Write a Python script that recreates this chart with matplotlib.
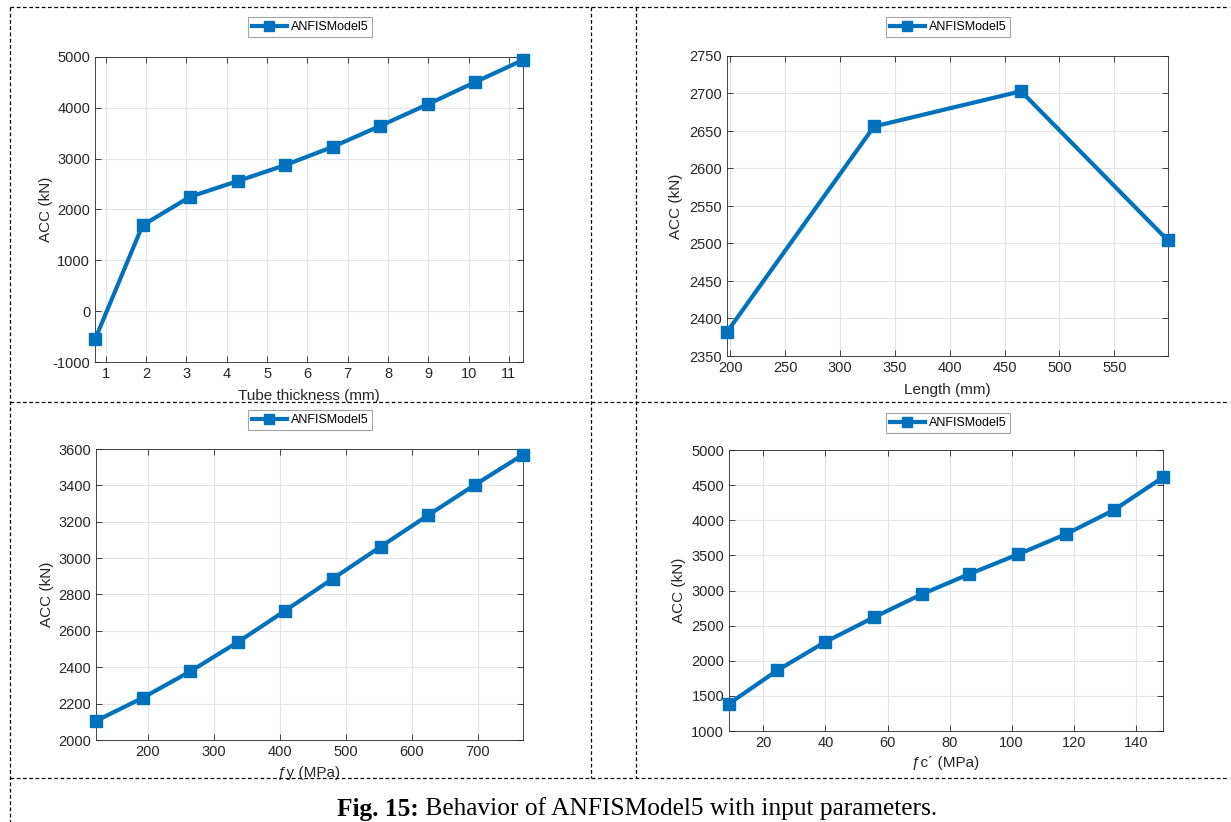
import matplotlib
matplotlib.use("Agg")
import matplotlib.pyplot as plt
from matplotlib.lines import Line2D

# data
thick_x = [0.73, 1.91, 3.09, 4.27, 5.45, 6.63, 7.81, 8.99, 10.17, 11.35]
thick_y = [-556, 1688, 2251, 2559, 2873, 3233, 3645, 4071, 4509, 4941]

length_x = [197, 331, 465, 599]
length_y = [2382, 2656, 2703, 2504]

fy_x = [121, 192, 264, 337, 408, 480, 553, 625, 696, 769]
fy_y = [2105, 2232, 2377, 2540, 2711, 2886, 3063, 3236, 3403, 3569]

fc_x = [8.9, 24.5, 39.9, 55.6, 71.0, 86.4, 102.1, 117.6, 133.0, 148.8]
fc_y = [1389, 1864, 2267, 2618, 2946, 3235, 3515, 3804, 4146, 4611]

W, H = 1231, 822
BLUE = "#0072BD"
DARK = "#262626"

plt.rcParams['font.family'] = ['Liberation Sans', 'DejaVu Sans']
plt.rcParams['axes.unicode_minus'] = False

fig = plt.figure(figsize=(W / 100, H / 100), dpi=100)


def px_axes(left, top, right, bottom):
    return fig.add_axes([left / W, 1 - bottom / H, (right - left) / W, (bottom - top) / H])


def panel(box, x, y, xlim, ylim, xticks, yticks, xlabel, legend_xy, ylab_x, xlab_y):
    ax = px_axes(*box)
    ax.plot(x, y, color=BLUE, linewidth=3, marker='s', markersize=8,
            label='ANFISModel5', clip_on=False, zorder=5)
    ax.set_xlim(*xlim)
    ax.set_ylim(*ylim)
    ax.set_xticks(xticks)
    ax.set_yticks(yticks)
    ax.grid(True, color='#e3e3e3', linewidth=0.8)
    ax.set_axisbelow(True)
    ax.tick_params(direction='in', top=True, right=True, length=4,
                   colors=DARK, labelsize=10.5, width=0.6)
    for s in ax.spines.values():
        s.set_color(DARK)
        s.set_linewidth(0.6)
    ax.set_xlabel(xlabel, fontsize=11, color=DARK)
    ax.set_ylabel('ACC (kN)', fontsize=11, color=DARK)
    ax.xaxis.set_label_coords(0.5, xlab_y, transform=ax.transAxes)
    ax.yaxis.set_label_coords(ylab_x, 0.5, transform=ax.transAxes)
    leg = ax.legend(loc='center', bbox_to_anchor=(legend_xy[0] / W, 1 - legend_xy[1] / H),
                    bbox_transform=fig.transFigure, fancybox=False, fontsize=9,
                    handlelength=2.8, borderpad=0.3, handletextpad=0.3,
                    markerscale=0.9)
    leg.get_frame().set_edgecolor('#8c8c8c')
    leg.get_frame().set_linewidth(0.8)
    return ax


ax1 = panel((95, 57, 523, 362), thick_x, thick_y, (0.73, 11.35), (-1000, 5000),
            range(1, 12), range(-1000, 5001, 1000), 'Tube thickness (mm)',
            (310, 27), -0.098, -0.09)
ax2 = panel((727, 56, 1168, 356), length_x, length_y, (197, 599), (2350, 2750),
            range(200, 551, 50), range(2350, 2751, 50), 'Length (mm)',
            (948, 27), -0.1, -0.09)
ax3 = panel((96, 449, 523, 740), fy_x, fy_y, (121, 769), (2000, 3600),
            range(200, 701, 100), range(2000, 3601, 200), 'ƒy (MPa)',
            (310, 420), -0.098, -0.09)
ax4 = panel((729, 450, 1163, 731), fc_x, fc_y, (8.9, 148.8), (1000, 5000),
            range(20, 141, 20), range(1000, 5001, 500), 'ƒc´ (MPa)',
            (948, 423), -0.1, -0.09)


# dashed table borders
def hline(y, x0=10, x1=1229):
    fig.add_artist(Line2D([x0 / W, x1 / W], [1 - y / H, 1 - y / H], color='black',
                          linewidth=0.9, linestyle=(0, (3, 2))))


def vline(x, y0=7, y1=822):
    fig.add_artist(Line2D([x / W, x / W], [1 - y0 / H, 1 - y1 / H], color='black',
                          linewidth=0.9, linestyle=(0, (3, 2))))


hline(7)
hline(402)
hline(778)
vline(10)
vline(591, 7, 778)
vline(636, 7, 778)

t1 = fig.text(337 / W, 1 - 809 / H, 'Fig. 15:', fontsize=18.3, fontweight='bold',
              family='Liberation Serif', va='center', ha='left')
plt.annotate(' Behavior of ANFISModel5 with input parameters.', xy=(1, 0.5),
             xycoords=t1, va='center', ha='left', fontsize=18.3,
             family='Liberation Serif', annotation_clip=False)

fig.savefig('out.png', dpi=100)
plt.close(fig)
